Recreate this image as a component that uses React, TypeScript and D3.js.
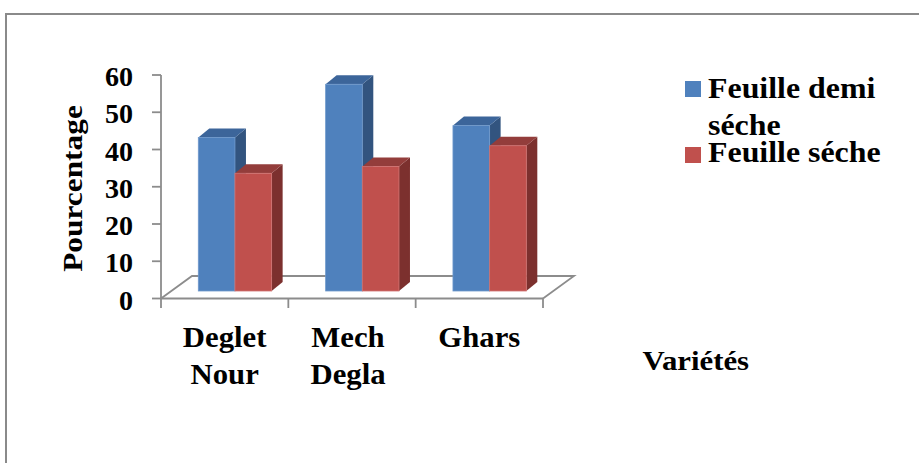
import React from "react";
import * as d3 from "d3";

// Chart data
const categories: string[][] = [["Deglet", "Nour"], ["Mech", "Degla"], ["Ghars"]];
const seriesNames: string[] = ["Feuille demi séche", "Feuille séche"];
const demiSeche: number[] = [41.2, 55.5, 44.4];
const seche: number[] = [31.6, 33.4, 39.0];
const yTicks: number[] = [0, 10, 20, 30, 40, 50, 60];

const W = 919;
const H = 463;

// Plot geometry (oblique 3D projection)
const frontLeft = 161;
const frontRight = 543;
const frontY = 298.5;
const topY = 75;
const floorDx = 31;
const floorDy = -22.5;
const barOffX = 10.3; // bar front face offset into the floor
const barOffY = -7.5;
const barDx = 11; // bar depth
const barDy = -9;

const palette = [
  { front: "#4F81BD", top: "#3C659A", side: "#32547F", edge: "#6E98CB" },
  { front: "#C0504D", top: "#933D3B", side: "#7C302E", edge: "#D07270" },
];

const axisColor = "#8C8C8C";
const font = "'Liberation Serif', 'Times New Roman', serif";

function T({
  x, y, sx = 1, size, anchor = "start", children, rotate = 0,
}: {
  x: number; y: number; sx?: number; size: number; anchor?: string; children: React.ReactNode; rotate?: number;
}) {
  return (
    <text
      transform={`translate(${x},${y}) rotate(${rotate}) scale(${sx},1)`}
      fontFamily={font}
      fontWeight="bold"
      fontSize={size}
      textAnchor={anchor as any}
      fill="#000"
    >
      {children}
    </text>
  );
}

export default function App() {
  const keys = categories.map((c) => c.join(" "));
  const y = d3.scaleLinear().domain([0, 60]).range([frontY, topY]);
  const x0 = d3
    .scaleBand<string>()
    .domain(keys)
    .range([frontLeft, frontRight])
    .paddingInner(0.424)
    .paddingOuter(0.212);
  const x1 = d3.scaleBand<number>().domain([0, 1]).range([0, x0.bandwidth()]);
  const series = [demiSeche, seche];
  const step = (frontRight - frontLeft) / keys.length;
  const boundaries = d3.range(keys.length + 1).map((i) => frontLeft + i * step);

  const bars: React.ReactNode[] = [];
  keys.forEach((k, ci) => {
    series.forEach((vals, si) => {
      const c = palette[si];
      const xl = (x0(k) as number) + (x1(si) as number) + barOffX;
      const xr = xl + x1.bandwidth();
      const yt = y(vals[ci]) + barOffY;
      const yb = y(0) + barOffY;
      const top = `M${xl},${yt} L${xl + barDx},${yt + barDy} L${xr + barDx},${yt + barDy} L${xr},${yt} Z`;
      const side = `M${xr},${yt} L${xr + barDx},${yt + barDy} L${xr + barDx},${yb + barDy} L${xr},${yb} Z`;
      bars.push(
        <g key={`${ci}-${si}`}>
          <path d={side} fill={c.side} />
          <path d={top} fill={c.top} />
          <rect x={xl} y={yt} width={xr - xl} height={yb - yt} fill={c.front} stroke={c.edge} strokeWidth={0.8} />
        </g>
      );
    });
  });

  return (
    <svg width={W} height={H} style={{ position: "absolute", left: 0, top: 0, background: "#fff" }}>
      {/* outer frame */}
      <rect x={6} y={14} width={W + 10} height={H + 10} fill="none" stroke="#8a8a8a" strokeWidth={2} />

      {/* floor */}
      <path
        d={`M${frontLeft},${frontY} L${frontLeft + floorDx},${frontY + floorDy} L${frontRight + floorDx},${frontY + floorDy} L${frontRight},${frontY}`}
        fill="none"
        stroke={axisColor}
        strokeWidth={1.8}
      />
      {/* category axis */}
      <line x1={frontLeft} x2={frontRight} y1={frontY} y2={frontY} stroke={axisColor} strokeWidth={1.8} />
      {boundaries.map((bx, i) => (
        <line key={i} x1={bx} x2={bx} y1={frontY} y2={frontY + 9.5} stroke={axisColor} strokeWidth={1.8} />
      ))}
      {/* value axis */}
      <line x1={frontLeft} x2={frontLeft} y1={topY} y2={frontY} stroke={axisColor} strokeWidth={1.8} />
      {yTicks.map((t) => (
        <g key={t}>
          <line x1={frontLeft - 9} x2={frontLeft} y1={y(t)} y2={y(t)} stroke={axisColor} strokeWidth={1.8} />
          <T x={133} y={y(t) + 11} size={27} sx={1.04} anchor="end">{t}</T>
        </g>
      ))}

      {bars}

      {/* category labels */}
      {keys.map((k, i) => {
        const cx = frontLeft + (i + 0.5) * step - (i === 1 ? 4 : 0);
        return categories[i].map((line, li) => (
          <T key={`${k}-${li}`} x={cx} y={347 + li * 36.5} size={29} sx={1.06} anchor="middle">{line}</T>
        ));
      })}

      {/* axis titles */}
      <T x={82} y={188.5} size={28} sx={1.12} rotate={-90} anchor="middle">Pourcentage</T>
      <T x={642.5} y={370} size={28} sx={1.1}>Variétés</T>

      {/* legend */}
      <rect x={685} y={81} width={16} height={16} fill={palette[0].front} />
      <T x={708} y={98} size={29} sx={1.1}>Feuille demi</T>
      <T x={708} y={135} size={29} sx={1.1}>séche</T>
      <rect x={685} y={147} width={16} height={16} fill={palette[1].front} />
      <T x={708} y={162} size={29} sx={1.1}>{seriesNames[1]}</T>
    </svg>
  );
}
